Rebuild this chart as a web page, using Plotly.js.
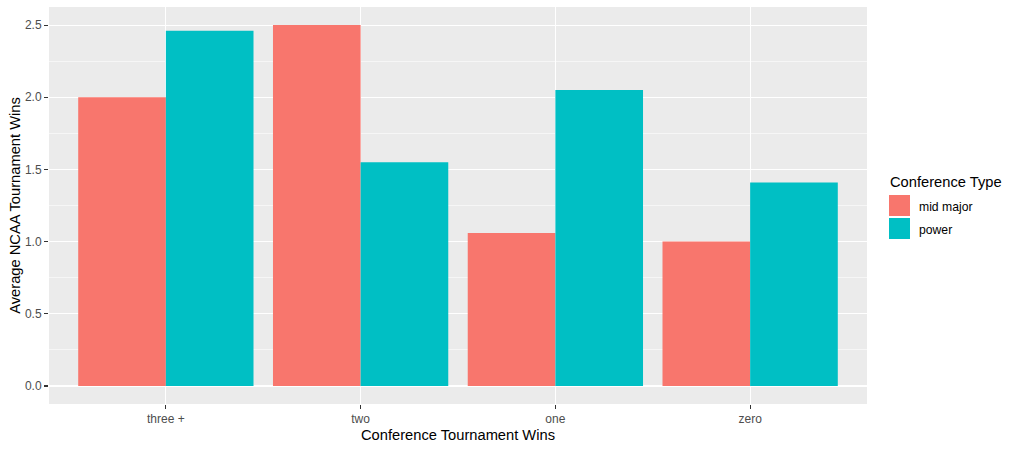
<!DOCTYPE html>
<html>
<head>
<meta charset="utf-8">
<script src="https://cdn.plot.ly/plotly-3.0.1.min.js"></script>
<style>html,body{margin:0;padding:0;background:#fff;}#chart{width:1015px;height:450px;}</style>
</head>
<body>
<div id="chart"></div>
<script>
const categories = ["three +", "two", "one", "zero"];
const seriesNames = ["mid major", "power"];
const midMajor = [2.0, 2.5, 1.06, 1.0];
const power = [2.46, 1.55, 2.05, 1.41];
const seriesColors = ["#F8766D", "#00BFC4"];
const yTicks = [0, 0.5, 1.0, 1.5, 2.0, 2.5];
const yTickLabels = ["0.0", "0.5", "1.0", "1.5", "2.0", "2.5"];

const FONT = "Liberation Sans, Arial, sans-serif";
const seriesValues = [midMajor, power];

const traces = seriesNames.map((n, i) => ({
  type: "bar",
  name: n,
  x: categories,
  y: seriesValues[i],
  marker: {color: seriesColors[i], line: {width: 0}},
  showlegend: false,
  hoverinfo: "x+y+name"
}));

// custom ggplot-style legend built from series names/colors
const plotL = 49, plotR = 867, plotT = 7, plotB = 404;
const px2x = p => (p - plotL) / (plotR - plotL);
const py2y = p => (plotB - p) / (plotB - plotT);
const shapes = [];
const annotations = [{
  xref: "paper", yref: "paper", x: px2x(888), y: py2y(181.5),
  xanchor: "left", yanchor: "middle", showarrow: false,
  text: "Conference Type", font: {family: FONT, size: 14.7, color: "#000"}
}];
seriesNames.forEach((n, i) => {
  const top = 195 + i * 23;
  shapes.push({
    type: "rect", xref: "paper", yref: "paper",
    x0: px2x(889), x1: px2x(910), y0: py2y(top + 21), y1: py2y(top),
    fillcolor: seriesColors[i], line: {width: 0}
  });
  annotations.push({
    xref: "paper", yref: "paper", x: px2x(917), y: py2y(top + 11.5),
    xanchor: "left", yanchor: "middle", showarrow: false,
    text: n, font: {family: FONT, size: 12.2, color: "#000"}
  });
});

const layout = {
  width: 1015, height: 450,
  margin: {l: plotL, r: 1015 - plotR, t: plotT, b: 450 - plotB, pad: 0},
  paper_bgcolor: "#FFFFFF",
  plot_bgcolor: "#EBEBEB",
  font: {family: FONT, color: "#000"},
  barmode: "group",
  bargap: 0.1,
  bargroupgap: 0,
  xaxis: {
    type: "category",
    range: [-0.6, 3.6],
    showgrid: true, gridcolor: "#FFFFFF", gridwidth: 1.1,
    zeroline: false, showline: false,
    ticks: "outside", ticklen: 4, tickcolor: "#333333", tickwidth: 1.1,
    tickfont: {family: FONT, size: 12, color: "#4D4D4D"},
    title: {text: "Conference Tournament Wins", font: {family: FONT, size: 14.7, color: "#000"}, standoff: 4},
    automargin: false,
    fixedrange: true
  },
  yaxis: {
    range: [-0.125, 2.625],
    tickvals: yTicks, ticktext: yTickLabels,
    showgrid: true, gridcolor: "#FFFFFF", gridwidth: 1.1,
    minor: {tickvals: [0.25, 0.75, 1.25, 1.75, 2.25], showgrid: true, gridcolor: "#FFFFFF", gridwidth: 0.55, ticks: ""},
    zeroline: false, showline: false,
    ticks: "outside", ticklen: 4, tickcolor: "#333333", tickwidth: 1.1,
    tickfont: {family: FONT, size: 12, color: "#4D4D4D"},
    title: {text: "Average NCAA Tournament Wins", font: {family: FONT, size: 14.7, color: "#000"}, standoff: 0},
    automargin: false,
    fixedrange: true
  },
  shapes: shapes,
  annotations: annotations
};

Plotly.newPlot("chart", traces, layout, {displayModeBar: false, staticPlot: true});
</script>
</body>
</html>
